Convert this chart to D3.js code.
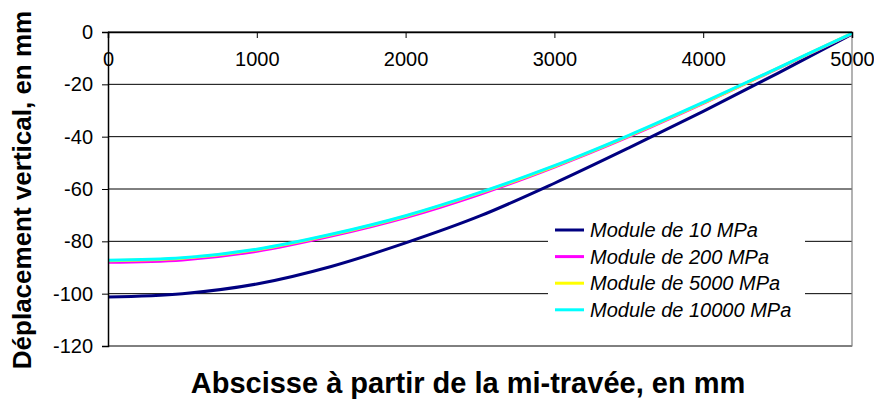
<!DOCTYPE html>
<html>
<head>
<meta charset="utf-8">
<script src="https://cdn.jsdelivr.net/npm/d3@7"></script>
<style>
  html, body { margin: 0; padding: 0; background: #fff; }
  svg { display: block; font-family: "Liberation Sans", Arial, sans-serif; }
</style>
</head>
<body>
<svg id="chart" width="874" height="401"></svg>
<script>
// Abscissa positions (mm) along the half-span
const abscissa = [0, 500, 1000, 1500, 2000, 2500, 3000, 3500, 4000, 4500, 5000];

// Vertical displacement (mm) for each soil modulus
const mod10    = [-101.3, -100.0, -96.3, -89.6, -80.6, -70.3, -57.8, -44.3, -30.3, -15.8, -0.8];
const mod200   = [-88.0, -87.1, -83.8, -78.0, -70.9, -62.0, -51.6, -40.0, -27.3, -14.0, -0.6];
const mod5000  = [-87.4, -86.5, -83.2, -77.5, -70.4, -61.5, -51.3, -39.7, -27.1, -13.9, -0.5];
const mod10000 = [-87.2, -86.3, -83.0, -77.3, -70.2, -61.3, -51.1, -39.5, -26.9, -13.8, -0.5];

const seriesNames  = ["Module de 10 MPa", "Module de 200 MPa", "Module de 5000 MPa", "Module de 10000 MPa"];
const seriesValues = [mod10, mod200, mod5000, mod10000];
const seriesColors = ["#000080", "#ff00ff", "#ffff00", "#00ffff"];

const xTicks = [0, 1000, 2000, 3000, 4000, 5000];
const yTicks = [0, -20, -40, -60, -80, -100, -120];

const xTitle = "Abscisse à partir de la mi-travée, en mm";
const yTitle = "Déplacement vertical, en mm";

const svg = d3.select("#chart");
const plot = { left: 108, right: 852, top: 32, bottom: 346 };

const x = d3.scaleLinear().domain([0, 5000]).range([plot.left, plot.right]);
const y = d3.scaleLinear().domain([-120, 0]).range([plot.bottom, plot.top]);

// Horizontal gridlines
svg.append("g")
  .selectAll("line")
  .data(yTicks)
  .join("line")
  .attr("x1", plot.left).attr("x2", plot.right)
  .attr("y1", d => y(d)).attr("y2", d => y(d))
  .attr("stroke", "#000").attr("stroke-width", 1);

// Plot-area border (right and bottom edges)
svg.append("path")
  .attr("d", `M${plot.right},${plot.top}V${plot.bottom}H${plot.left}`)
  .attr("fill", "none").attr("stroke", "#808080").attr("stroke-width", 1.2);

// Series curves
const line = d3.line()
  .x((d, i) => x(abscissa[i]))
  .y(d => y(d))
  .curve(d3.curveCatmullRom.alpha(0.5));

svg.append("g")
  .selectAll("path")
  .data(seriesValues)
  .join("path")
  .attr("d", d => line(d))
  .attr("fill", "none")
  .attr("stroke", (d, i) => seriesColors[i])
  .attr("stroke-width", 3)
  .attr("stroke-linejoin", "round");

// Y axis (left), ticks outside
const yAxis = d3.axisLeft(y).tickValues(yTicks).tickSize(6).tickPadding(9).tickFormat(d3.format("d"));
const gy = svg.append("g").attr("transform", `translate(${plot.left},0)`).call(yAxis);
gy.select(".domain").attr("stroke", "#000").attr("stroke-width", 1.5);
gy.selectAll(".tick line").attr("stroke", "#000");
gy.selectAll(".tick text")
  .attr("font-size", 20).attr("fill", "#000")
  .attr("font-family", "Liberation Sans, Arial, sans-serif")
  .text(d => String(d));

// X axis placed on the zero line, ticks pointing into the plot
const xAxis = d3.axisBottom(x).tickValues(xTicks).tickSize(6).tickPadding(14).tickFormat(d3.format("d"));
const gx = svg.append("g").attr("transform", `translate(0,${y(0)})`).call(xAxis);
gx.select(".domain").attr("stroke", "#000").attr("stroke-width", 1.5);
gx.selectAll(".tick line").attr("stroke", "#000");
gx.selectAll(".tick text")
  .attr("font-size", 20).attr("fill", "#000")
  .attr("font-family", "Liberation Sans, Arial, sans-serif");

// Legend
const legend = svg.append("g");
legend.append("rect")
  .attr("x", 548).attr("y", 215).attr("width", 257).attr("height", 108)
  .attr("fill", "#fff");
const rows = legend.selectAll("g.row")
  .data(seriesNames)
  .join("g")
  .attr("class", "row")
  .attr("transform", (d, i) => `translate(0,${230 + i * 26.6})`);
rows.append("line")
  .attr("x1", 555).attr("x2", 584).attr("y1", 0).attr("y2", 0)
  .attr("stroke", (d, i) => seriesColors[i]).attr("stroke-width", 3);
rows.append("text")
  .attr("x", 590).attr("y", 7)
  .attr("font-size", 20).attr("font-style", "italic")
  .text(d => d);

// Axis titles
svg.append("text")
  .attr("x", 468).attr("y", 393)
  .attr("text-anchor", "middle")
  .attr("font-size", 29).attr("font-weight", "bold")
  .text(xTitle);

svg.append("text")
  .attr("transform", "translate(31,190) rotate(-90)")
  .attr("text-anchor", "middle")
  .attr("font-size", 26).attr("font-weight", "bold")
  .text(yTitle);
</script>
</body>
</html>
